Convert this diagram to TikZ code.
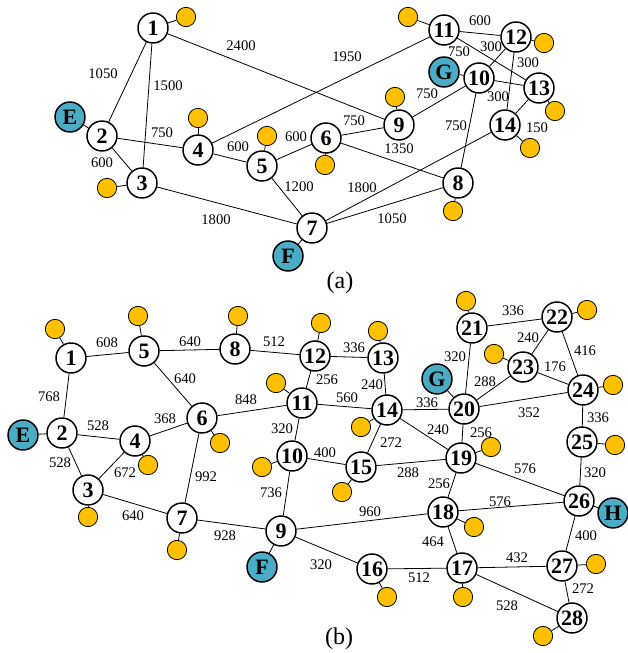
\documentclass[tikz,border=0pt]{standalone}
\usepackage{fontspec}
\setmainfont{Liberation Serif}
\usepackage{xcolor}
\definecolor{loadorange}{HTML}{FFC000}
\definecolor{srcblue}{HTML}{4BACC6}
\tikzset{
  bus/.style={circle,draw,line width=1.1pt,fill=white,minimum size=22.5pt,inner sep=0pt,
    font=\fontsize{16.5}{16.5}\selectfont\bfseries},
  src/.style={bus,fill=srcblue},
  load/.style={circle,draw,line width=0.6pt,fill=loadorange,minimum size=14.5pt,inner sep=0pt},
  len/.style={font=\fontsize{11}{11}\selectfont,inner sep=0pt},
  wire/.style={line width=0.6pt}
}

\begin{document}
\begin{tikzpicture}[x=0.75pt,y=-0.75pt]
		\useasboundingbox (0,0) rectangle (628,653);
		% (a) buses
		\node[bus] (a1) at (153,28) {1};
		\node[bus] (a2) at (102,136) {2};
		\node[bus] (a3) at (142,183) {3};
		\node[bus] (a4) at (198,150) {4};
		\node[bus] (a5) at (262,166) {5};
		\node[bus] (a6) at (326,138) {6};
		\node[bus] (a7) at (312,228) {7};
		\node[bus] (a8) at (458,183) {8};
		\node[bus] (a9) at (399,125) {9};
		\node[bus] (a10) at (479,78) {10};
		\node[bus] (a11) at (444,30) {11};
		\node[bus] (a12) at (516,37) {12};
		\node[bus] (a13) at (539,88) {13};
		\node[bus] (a14) at (505,125) {14};
		\node[src] (aE) at (70,117) {E};
		\node[src] (aF) at (288,256) {F};
		\node[src] (aG) at (444,72) {G};
		% (a) loads
		\node[load] (la1) at (186,17) {};
		\node[load] (la3) at (107,188) {};
		\node[load] (la4) at (198,118) {};
		\node[load] (la5) at (267,136) {};
		\node[load] (la6) at (325,165) {};
		\node[load] (la8) at (453,211) {};
		\node[load] (la9) at (395,97) {};
		\node[load] (la11) at (408,17) {};
		\node[load] (la12) at (544,43) {};
		\node[load] (la13) at (555,111) {};
		\node[load] (la14) at (530,148) {};
		% (a) lines
		\draw[wire] (a1) -- (a2);
		\draw[wire] (a1) -- (a3);
		\draw[wire] (a1) -- (a9);
		\draw[wire] (a2) -- (a3);
		\draw[wire] (a2) -- (a4);
		\draw[wire] (a3) -- (a7);
		\draw[wire] (a4) -- (a5);
		\draw[wire] (a4) -- (a11);
		\draw[wire] (a5) -- (a6);
		\draw[wire] (a5) -- (a7);
		\draw[wire] (a6) -- (a9);
		\draw[wire] (a6) -- (a8);
		\draw[wire] (a7) -- (a14);
		\draw[wire] (a7) -- (a8);
		\draw[wire] (a9) -- (a10);
		\draw[wire] (a8) -- (a10);
		\draw[wire] (a10) -- (a12);
		\draw[wire] (a10) -- (a13);
		\draw[wire] (a11) -- (a12);
		\draw[wire] (a11) -- (a13);
		\draw[wire] (a12) -- (a14);
		\draw[wire] (a13) -- (a14);
		\draw[wire] (aE) -- (a2);
		\draw[wire] (aF) -- (a7);
		\draw[wire] (aG) -- (a10);
		\draw[wire] (la1) -- (a1);
		\draw[wire] (la3) -- (a3);
		\draw[wire] (la4) -- (a4);
		\draw[wire] (la5) -- (a5);
		\draw[wire] (la6) -- (a6);
		\draw[wire] (la8) -- (a8);
		\draw[wire] (la9) -- (a9);
		\draw[wire] (la11) -- (a11);
		\draw[wire] (la12) -- (a12);
		\draw[wire] (la13) -- (a13);
		\draw[wire] (la14) -- (a14);
		% (a) lengths
		\node[len] (wa1) at (103,74) {1050};
		\node[len] (wa2) at (168,86) {1500};
		\node[len] (wa3) at (241,46) {2400};
		\node[len] (wa4) at (162,133) {750};
		\node[len] (wa5) at (102,163) {600};
		\node[len] (wa6) at (238,147) {600};
		\node[len] (wa7) at (296,137) {600};
		\node[len] (wa8) at (299,187) {1200};
		\node[len] (wa9) at (216,220) {1800};
		\node[len] (wa10) at (354,121) {750};
		\node[len] (wa11) at (399,149) {1350};
		\node[len] (wa12) at (362,188) {1800};
		\node[len] (wa13) at (392,219) {1050};
		\node[len] (wa14) at (347,57) {1950};
		\node[len] (wa15) at (427,94) {750};
		\node[len] (wa16) at (456,126) {750};
		\node[len] (wa17) at (480,21) {600};
		\node[len] (wa18) at (459,52) {750};
		\node[len] (wa19) at (491,47) {300};
		\node[len] (wa20) at (528,63) {300};
		\node[len] (wa21) at (498,97) {300};
		\node[len] (wa22) at (537,128) {150};
		\node[font=\fontsize{18}{18}\selectfont] (capa) at (340,283) {(a)};

		% (b) buses
		\node[bus] (b1) at (71,358) {1};
		\node[bus] (b2) at (62,433) {2};
		\node[bus] (b3) at (88,490) {3};
		\node[bus] (b4) at (135,441) {4};
		\node[bus] (b5) at (144,351) {5};
		\node[bus] (b6) at (202,418) {6};
		\node[bus] (b7) at (182,518) {7};
		\node[bus] (b8) at (235,349) {8};
		\node[bus] (b9) at (281,531) {9};
		\node[bus] (b10) at (292,456) {10};
		\node[bus] (b11) at (302,403) {11};
		\node[bus] (b12) at (315,356) {12};
		\node[bus] (b13) at (383,358) {13};
		\node[bus] (b14) at (387,410) {14};
		\node[bus] (b15) at (361,467) {15};
		\node[bus] (b16) at (372,569) {16};
		\node[bus] (b17) at (462,568) {17};
		\node[bus] (b18) at (443,512) {18};
		\node[bus] (b19) at (461,458) {19};
		\node[bus] (b20) at (464,409) {20};
		\node[bus] (b21) at (472,328) {21};
		\node[bus] (b22) at (557,317) {22};
		\node[bus] (b23) at (523,367) {23};
		\node[bus] (b24) at (583,390) {24};
		\node[bus] (b25) at (582,442) {25};
		\node[bus] (b26) at (579,501) {26};
		\node[bus] (b27) at (562,566) {27};
		\node[bus] (b28) at (572,618) {28};
		\node[src] (bE) at (23,435) {E};
		\node[src] (bF) at (262,567) {F};
		\node[src] (bG) at (437,379) {G};
		\node[src] (bH) at (613,513) {H};
		% (b) loads
		\node[load] (lb1) at (55,329) {};
		\node[load] (lb3) at (88,517) {};
		\node[load] (lb4) at (148,465) {};
		\node[load] (lb5) at (138,316) {};
		\node[load] (lb6) at (220,443) {};
		\node[load] (lb7) at (177,550) {};
		\node[load] (lb8) at (238,316) {};
		\node[load] (lb10) at (262,467) {};
		\node[load] (lb11) at (276,383) {};
		\node[load] (lb12) at (321,323) {};
		\node[load] (lb13) at (378,331) {};
		\node[load] (lb14) at (361,427) {};
		\node[load] (lb15) at (342,492) {};
		\node[load] (lb16) at (387,597) {};
		\node[load] (lb17) at (463,597) {};
		\node[load] (lb18) at (474,527) {};
		\node[load] (lb19) at (491,447) {};
		\node[load] (lb21) at (466,301) {};
		\node[load] (lb22) at (587,310) {};
		\node[load] (lb23) at (494,354) {};
		\node[load] (lb24) at (613,385) {};
		\node[load] (lb25) at (615,445) {};
		\node[load] (lb27) at (596,564) {};
		\node[load] (lb28) at (543,636) {};
		% (b) lines
		\draw[wire] (b1) -- (b5);
		\draw[wire] (b5) -- (b8);
		\draw[wire] (b8) -- (b12);
		\draw[wire] (b12) -- (b13);
		\draw[wire] (b1) -- (b2);
		\draw[wire] (b2) -- (b4);
		\draw[wire] (b2) -- (b3);
		\draw[wire] (b3) -- (b4);
		\draw[wire] (b4) -- (b6);
		\draw[wire] (b5) -- (b6);
		\draw[wire] (b6) -- (b11);
		\draw[wire] (b6) -- (b7);
		\draw[wire] (b3) -- (b7);
		\draw[wire] (b7) -- (b9);
		\draw[wire] (b11) -- (b12);
		\draw[wire] (b11) -- (b14);
		\draw[wire] (b11) -- (b10);
		\draw[wire] (b13) -- (b14);
		\draw[wire] (b14) -- (b20);
		\draw[wire] (b14) -- (b15);
		\draw[wire] (b14) -- (b19);
		\draw[wire] (b10) -- (b15);
		\draw[wire] (b10) -- (b9);
		\draw[wire] (b15) -- (b19);
		\draw[wire] (b20) -- (b19);
		\draw[wire] (b20) -- (b21);
		\draw[wire] (b20) -- (b23);
		\draw[wire] (b20) -- (b24);
		\draw[wire] (b21) -- (b22);
		\draw[wire] (b22) -- (b23);
		\draw[wire] (b22) -- (b24);
		\draw[wire] (b23) -- (b24);
		\draw[wire] (b24) -- (b25);
		\draw[wire] (b25) -- (b26);
		\draw[wire] (b19) -- (b26);
		\draw[wire] (b19) -- (b18);
		\draw[wire] (b18) -- (b26);
		\draw[wire] (b9) -- (b18);
		\draw[wire] (b9) -- (b16);
		\draw[wire] (b16) -- (b17);
		\draw[wire] (b18) -- (b17);
		\draw[wire] (b17) -- (b27);
		\draw[wire] (b17) -- (b28);
		\draw[wire] (b26) -- (b27);
		\draw[wire] (b27) -- (b28);
		\draw[wire] (bE) -- (b2);
		\draw[wire] (bF) -- (b9);
		\draw[wire] (bG) -- (b20);
		\draw[wire] (bH) -- (b26);
		\draw[wire] (lb1) -- (b1);
		\draw[wire] (lb3) -- (b3);
		\draw[wire] (lb4) -- (b4);
		\draw[wire] (lb5) -- (b5);
		\draw[wire] (lb6) -- (b6);
		\draw[wire] (lb7) -- (b7);
		\draw[wire] (lb8) -- (b8);
		\draw[wire] (lb10) -- (b10);
		\draw[wire] (lb11) -- (b11);
		\draw[wire] (lb12) -- (b12);
		\draw[wire] (lb13) -- (b13);
		\draw[wire] (lb14) -- (b14);
		\draw[wire] (lb15) -- (b15);
		\draw[wire] (lb16) -- (b16);
		\draw[wire] (lb17) -- (b17);
		\draw[wire] (lb18) -- (b18);
		\draw[wire] (lb19) -- (b19);
		\draw[wire] (lb21) -- (b21);
		\draw[wire] (lb22) -- (b22);
		\draw[wire] (lb23) -- (b23);
		\draw[wire] (lb24) -- (b24);
		\draw[wire] (lb25) -- (b25);
		\draw[wire] (lb27) -- (b27);
		\draw[wire] (lb28) -- (b28);
		% (b) lengths
		\node[len] (wb1) at (107,343) {608};
		\node[len] (wb2) at (190,342) {640};
		\node[len] (wb3) at (274,342) {512};
		\node[len] (wb4) at (354,348) {336};
		\node[len] (wb5) at (49,397) {768};
		\node[len] (wb6) at (185,379) {640};
		\node[len] (wb7) at (246,400) {848};
		\node[len] (wb8) at (327,380) {256};
		\node[len] (wb9) at (347,398) {560};
		\node[len] (wb10) at (372,385) {240};
		\node[len] (wb11) at (427,403) {336};
		\node[len] (wb12) at (455,357) {320};
		\node[len] (wb13) at (485,382) {288};
		\node[len] (wb14) at (513,311) {336};
		\node[len] (wb15) at (528,338) {240};
		\node[len] (wb16) at (555,367) {176};
		\node[len] (wb17) at (585,351) {416};
		\node[len] (wb18) at (529,413) {352};
		\node[len] (wb19) at (598,418) {336};
		\node[len] (wb20) at (595,473) {320};
		\node[len] (wb21) at (98,426) {528};
		\node[len] (wb22) at (165,419) {368};
		\node[len] (wb23) at (60,463) {528};
		\node[len] (wb24) at (125,473) {672};
		\node[len] (wb25) at (206,477) {992};
		\node[len] (wb26) at (133,516) {640};
		\node[len] (wb27) at (225,536) {928};
		\node[len] (wb28) at (282,429) {320};
		\node[len] (wb29) at (325,453) {400};
		\node[len] (wb30) at (391,443) {272};
		\node[len] (wb31) at (438,430) {240};
		\node[len] (wb32) at (481,433) {256};
		\node[len] (wb33) at (408,473) {288};
		\node[len] (wb34) at (271,493) {736};
		\node[len] (wb35) at (439,484) {256};
		\node[len] (wb36) at (370,512) {960};
		\node[len] (wb37) at (500,502) {576};
		\node[len] (wb38) at (525,469) {576};
		\node[len] (wb39) at (321,565) {320};
		\node[len] (wb40) at (433,542) {464};
		\node[len] (wb41) at (419,578) {512};
		\node[len] (wb42) at (517,558) {432};
		\node[len] (wb43) at (586,536) {400};
		\node[len] (wb44) at (583,589) {272};
		\node[len] (wb45) at (507,606) {528};
		\node[font=\fontsize{18}{18}\selectfont] (capb) at (339,639) {(b)};
	\end{tikzpicture}
\end{document}
